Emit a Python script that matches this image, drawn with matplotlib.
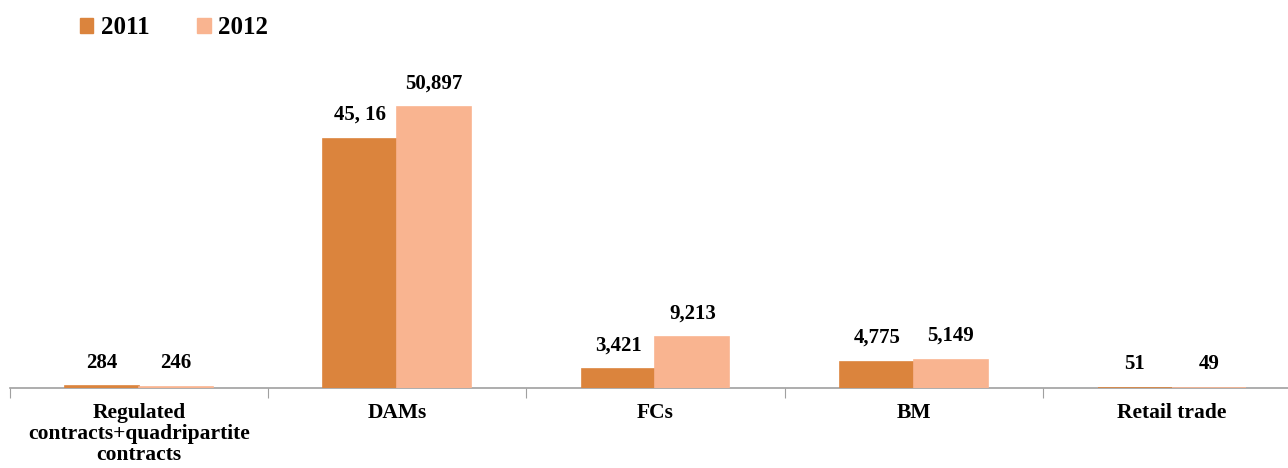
import matplotlib

matplotlib.use("Agg")
import numpy as np
from matplotlib import pyplot as plt
from matplotlib.patches import Patch

categories = [
    "Regulated\ncontracts+quadripartite\ncontracts",
    "DAMs",
    "FCs",
    "BM",
    "Retail trade",
]
values_2011 = [284, 45160, 3421, 4775, 51]
values_2012 = [246, 50897, 9213, 5149, 49]
labels_2011 = ["284", "45, 16", "3,421", "4,775", "51"]
labels_2012 = ["246", "50,897", "9,213", "5,149", "49"]

color_2011 = "#DB843D"
color_2012 = "#F9B490"

plt.rcParams["font.family"] = ["Liberation Serif", "DejaVu Serif"]
plt.rcParams["font.weight"] = "bold"

fig = plt.figure(figsize=(12.88, 4.68), dpi=100)
W, H = 1288, 468
# axes span 10..1301 px horizontally (cut at the right edge), baseline at y=388
ax = fig.add_axes([10 / W, (H - 388) / H, 1291 / W, 331 / H])

x = np.arange(len(categories))
width = 0.286
bars1 = ax.bar(x - width / 2, values_2011, width, color=color_2011,
               edgecolor=color_2011, linewidth=1.2, zorder=3, label="2011")
bars2 = ax.bar(x + width / 2, values_2012, width, color=color_2012,
               edgecolor=color_2012, linewidth=1.2, zorder=3, label="2012")

for bars, texts in ((bars1, labels_2011), (bars2, labels_2012)):
    for bar, text in zip(bars, texts):
        ax.annotate(
            text,
            (bar.get_x() + bar.get_width() / 2, bar.get_height()),
            xytext=(0, 10),
            textcoords="offset points",
            ha="center",
            va="bottom",
            fontsize=15,
            fontweight="bold",
        )

ax.set_xlim(-0.5, len(categories) - 0.5)
ax.set_ylim(0, 60000)
ax.set_yticks([])
ax.set_xticks(np.arange(-0.5, len(categories), 1.0))
ax.set_xticklabels([])
ax.set_xticks(x, minor=True)
ax.set_xticklabels(categories, minor=True, fontsize=15.5, fontweight="bold",
                   linespacing=1.05)
ax.tick_params(axis="x", which="major", length=7, color="#A0A0A0", direction="out")
ax.tick_params(axis="x", which="minor", length=0, pad=11)
for side in ("top", "right", "left"):
    ax.spines[side].set_visible(False)
ax.spines["bottom"].set_color("#A0A0A0")
ax.spines["bottom"].set_linewidth(1.2)
ax.spines["bottom"].set_zorder(2)

handles = [Patch(color=color_2011), Patch(color=color_2012)]
fig.legend(
    handles,
    ["2011", "2012"],
    loc="upper left",
    bbox_to_anchor=(57 / W, 1 + 6 / H),
    ncol=2,
    frameon=False,
    handlelength=0.55,
    handleheight=0.55,
    handletextpad=0.3,
    columnspacing=1.9,
    prop={"weight": "bold", "size": 18},
)

fig.savefig("out.png", dpi=100)
